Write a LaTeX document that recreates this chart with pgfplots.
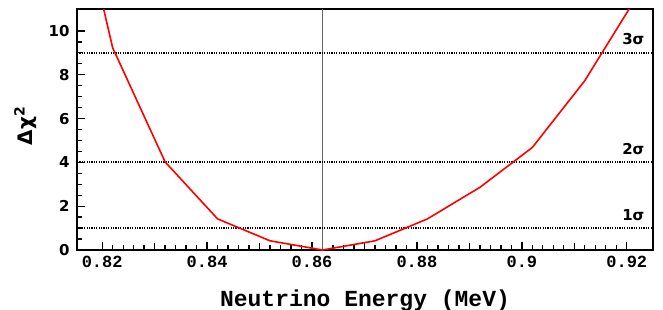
\documentclass[border=0pt]{standalone}
\usepackage{fontspec}
\setmainfont{DejaVu Sans}
\newfontfamily\monof{Liberation Mono}
\usepackage{pgfplots}
\pgfplotsset{compat=1.18}
\begin{document}
\begin{tikzpicture}
\useasboundingbox (-77pt,-59pt) rectangle (586pt,250pt);
\begin{axis}[
  at={(0pt,0pt)}, anchor=south west,
  scale only axis, width=576pt, height=241pt,
  xmin=0.8152, xmax=0.925, ymin=0, ymax=11,
  axis line style={line width=2pt},
  xtick={0.82,0.84,0.86,0.88,0.9,0.92},
  xticklabels={0.82,0.84,0.86,0.88,0.9,0.92},
  ytick={0,2,4,6,8,10},
  yticklabels={0,2,4,6,8,10},
  minor x tick num=9, minor y tick num=3,
  extra x ticks={0.83,0.85,0.87,0.89,0.91},
  extra x tick labels={},
  extra x tick style={major tick length=7pt},
  xtick pos=bottom, ytick pos=left, tick align=inside,
  major tick length=8pt, minor tick length=5pt,
  every tick/.style={black, line width=1.3pt},
  xticklabel style={font=\monof\bfseries\fontsize{17}{17}\selectfont, yshift=-3pt},
  yticklabel style={font=\bfseries\fontsize{15}{15}\selectfont, xshift=-4pt},
  xlabel={Neutrino Energy (MeV)},
  xlabel style={font=\monof\bfseries\fontsize{23}{23}\selectfont, at={(axis description cs:0.5,0)}, anchor=base, yshift=-56pt},
  ylabel={Δχ\textsuperscript{2}},
  ylabel style={font=\bfseries\fontsize{20}{20}\selectfont, at={(axis description cs:-0.09,0.515)}, anchor=center},
]
\addplot[gray!80!black, line width=1pt] coordinates {(0.862,0) (0.862,11)};
\addplot[black, line width=2pt, dash pattern=on 1.2pt off 1.2pt] coordinates {(0.8152,1) (0.925,1)};
\addplot[black, line width=2pt, dash pattern=on 1.2pt off 1.2pt] coordinates {(0.8152,4) (0.925,4)};
\addplot[black, line width=2pt, dash pattern=on 1.2pt off 1.2pt] coordinates {(0.8152,9) (0.925,9)};
\addplot[red, line width=1.6pt] coordinates {
(0.812,19.5) (0.822,9.23) (0.832,4.02) (0.842,1.42) (0.852,0.42) (0.862,0)
(0.872,0.42) (0.882,1.42) (0.892,2.86) (0.902,4.68) (0.912,7.73) (0.922,11.6)};
\node[anchor=base east, inner sep=0pt, font=\bfseries\fontsize{15}{15}\selectfont] at (axis cs:0.9234,9.36) {3σ};
\node[anchor=base east, inner sep=0pt, font=\bfseries\fontsize{15}{15}\selectfont] at (axis cs:0.9234,4.36) {2σ};
\node[anchor=base east, inner sep=0pt, font=\bfseries\fontsize{15}{15}\selectfont] at (axis cs:0.9234,1.36) {1σ};
\end{axis}
\end{tikzpicture}
\end{document}
